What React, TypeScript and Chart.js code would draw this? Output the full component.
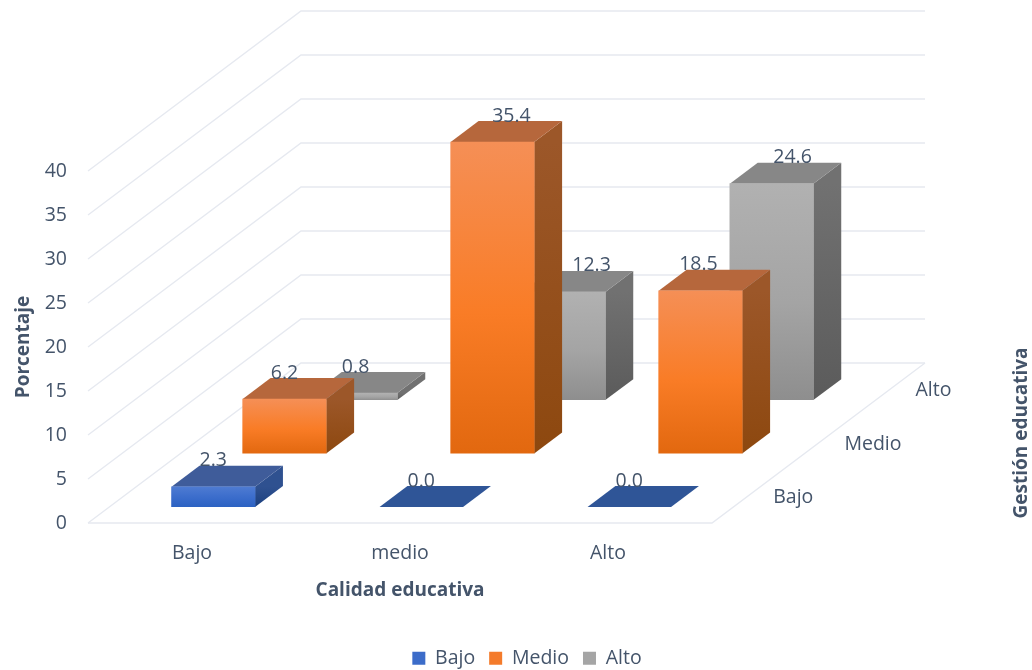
import React, { useEffect, useRef } from "react";
import { Chart, registerables } from "chart.js";

Chart.register(...registerables);

const categories = ["Bajo", "medio", "Alto"];
const depthLabels = ["Bajo", "Medio", "Alto"];
const seriesBajo = [2.3, 0.0, 0.0];
const seriesMedio = [6.2, 35.4, 18.5];
const seriesAlto = [0.8, 12.3, 24.6];

const FONT = '"Open Sans", sans-serif';
const TEXT = "#44546A";
const GRID = "#E6E9F0";
const TICK_SIZE = 19.5;
const TITLE_SIZE = 19;
const BOTTOM_BLEED = 8;

// Oblique projection of the depth axis, in px
const DEPTH_X = 213;
const DEPTH_Y = -160;
const BAR_DEPTH = 0.131;

type Skin = {
  front: [string, string, string];
  top: string;
  side: [string, string];
  depth: number;
  labelShift: number[];
  legend: string;
};

const skins: Skin[] = [
  { front: ["#4E7BD2", "#3A6CCB", "#2C62C2"], top: "#3F5C9A", side: ["#2F5190", "#1B3F7E"], depth: 0.1, labelShift: [0, 0, 0], legend: "#3C6CC9" },
  { front: ["#F58F56", "#F97C26", "#E2680F"], top: "#B6673C", side: ["#9C5729", "#8D480F"], depth: 0.434, labelShift: [0, 19, -2], legend: "#F47B2B" },
  { front: ["#B1B1B1", "#A4A4A4", "#8E8E8E"], top: "#878787", side: ["#717171", "#5B5B5B"], depth: 0.768, labelShift: [0, 28, 21], legend: "#A5A5A5" },
];

function frontGradient(i: number) {
  return (c: any) => {
    if (c.type !== "data") return skins[i].legend;
    const y = c.chart.scales.y;
    const top = y.getPixelForValue(c.raw);
    const bottom = y.getPixelForValue(0);
    if (!Number.isFinite(top) || !Number.isFinite(bottom)) return skins[i].legend;
    const g = c.chart.ctx.createLinearGradient(0, top, 0, bottom);
    g.addColorStop(0, skins[i].front[0]);
    g.addColorStop(0.55, skins[i].front[1]);
    g.addColorStop(1, skins[i].front[2]);
    return g;
  };
}

const poly = (ctx: CanvasRenderingContext2D, pts: number[][], fill: any) => {
  ctx.beginPath();
  pts.forEach((p, i) => (i ? ctx.lineTo(p[0], p[1]) : ctx.moveTo(p[0], p[1])));
  ctx.closePath();
  ctx.fillStyle = fill;
  ctx.fill();
};

const threeD = {
  id: "threeD",
  beforeDatasetsDraw(chart: any) {
    const { ctx, chartArea: a, scales } = chart;
    ctx.save();
    ctx.strokeStyle = GRID;
    ctx.lineWidth = 1.4;
    scales.y.ticks.forEach((t: any) => {
      const y = scales.y.getPixelForValue(t.value);
      ctx.beginPath();
      ctx.moveTo(a.left, y);
      ctx.lineTo(a.left + DEPTH_X, y + DEPTH_Y);
      ctx.lineTo(a.right + DEPTH_X, y + DEPTH_Y);
      ctx.stroke();
    });
    ctx.beginPath();
    ctx.moveTo(a.left, a.bottom);
    ctx.lineTo(a.right, a.bottom);
    ctx.lineTo(a.right + DEPTH_X, a.bottom + DEPTH_Y);
    ctx.stroke();
    ctx.restore();
  },
  beforeDatasetDraw(chart: any, args: any) {
    const { ctx } = chart;
    const s = skins[args.index];
    ctx.save();
    ctx.translate(s.depth * DEPTH_X, s.depth * DEPTH_Y);
    const bx = BAR_DEPTH * DEPTH_X;
    const by = BAR_DEPTH * DEPTH_Y;
    args.meta.data.forEach((el: any) => {
      const { x, y, base, width } = el.getProps(["x", "y", "base", "width"], true);
      const l = x - width / 2;
      const r = x + width / 2;
      if (base - y > 0.5) {
        const g = ctx.createLinearGradient(0, y, 0, base);
        g.addColorStop(0, s.side[0]);
        g.addColorStop(1, s.side[1]);
        poly(ctx, [[r, y], [r + bx, y + by], [r + bx, base + by], [r, base]], g);
      }
      poly(ctx, [[l, y], [r, y], [r + bx, y + by], [l + bx, y + by]], base - y > 0.5 ? s.top : "#2F5597");
    });
  },
  afterDatasetDraw(chart: any) {
    chart.ctx.restore();
  },
  afterDatasetsDraw(chart: any) {
    const { ctx, chartArea: a } = chart;
    ctx.save();
    ctx.fillStyle = TEXT;
    ctx.textAlign = "center";
    ctx.textBaseline = "middle";
    ctx.font = `${TICK_SIZE}px ${FONT}`;
    chart.data.datasets.forEach((ds: any, di: number) => {
      const s = skins[di];
      chart.getDatasetMeta(di).data.forEach((el: any, i: number) => {
        const px = el.x + s.depth * DEPTH_X + s.labelShift[i];
        const py = el.y + s.depth * DEPTH_Y + BAR_DEPTH * DEPTH_Y - 5;
        ctx.fillText(ds.data[i].toFixed(1), px, py);
      });
      // depth axis tick label, beside the floor's right edge
      const d = s.depth + BAR_DEPTH / 2;
      ctx.textAlign = "left";
      ctx.fillText(depthLabels[di], a.right + d * DEPTH_X + 26, a.bottom + d * DEPTH_Y + 1);
      ctx.textAlign = "center";
    });
    ctx.translate(1022, 433);
    ctx.rotate(-Math.PI / 2);
    ctx.font = `bold ${TITLE_SIZE}px ${FONT}`;
    ctx.fillText("Gestión educativa", 0, 0);
    ctx.restore();
  },
};

const datasets = [
  { label: "Bajo", data: seriesBajo, order: 0, backgroundColor: frontGradient(0) },
  { label: "Medio", data: seriesMedio, order: 1, backgroundColor: frontGradient(1) },
  { label: "Alto", data: seriesAlto, order: 2, backgroundColor: frontGradient(2) },
];

export default function App() {
  const ref = useRef<HTMLCanvasElement>(null);
  useEffect(() => {
    const chart = new Chart(ref.current as HTMLCanvasElement, {
      type: "bar",
      data: { labels: categories, datasets: datasets as any },
      plugins: [threeD as any],
      options: {
        animation: false,
        responsive: false,
        layout: { padding: { top: 171, left: 22, right: 0, bottom: -BOTTOM_BLEED } },
        datasets: { bar: { grouped: false, barThickness: 83.5, borderWidth: 0 } },
        plugins: {
          tooltip: { enabled: false },
          legend: {
            position: "bottom",
            labels: {
              boxWidth: 13,
              boxHeight: 13,
              padding: 14,
              color: TEXT,
              font: { family: FONT, size: 19.5 },
              generateLabels: (c: any) =>
                Chart.defaults.plugins.legend.labels.generateLabels(c).map((item: any, i: number) => ({
                  ...item,
                  fillStyle: skins[i].legend,
                  strokeStyle: skins[i].legend,
                })),
            },
          },
        },
        scales: {
          x: {
            grid: { display: false },
            border: { display: false },
            ticks: { color: TEXT, padding: 11, font: { family: FONT, size: TICK_SIZE } },
            title: { display: true, text: "Calidad educativa", color: TEXT, padding: { top: 14, bottom: 33 }, font: { family: FONT, size: TITLE_SIZE, weight: "bold" } },
            afterFit: (s: any) => {
              s.height = 670 + BOTTOM_BLEED - 523 - (s.chart.legend?.height ?? 36);
            },
          },
          y: {
            min: 0,
            max: 40,
            grid: { display: false },
            border: { display: false },
            ticks: { stepSize: 5, color: TEXT, padding: 13, font: { family: FONT, size: TICK_SIZE } },
            title: { display: true, text: "Porcentaje", color: TEXT, padding: { top: -9.4, bottom: 0 }, font: { family: FONT, size: TITLE_SIZE, weight: "bold" } },
            afterFit: (s: any) => {
              s.width = 66;
            },
          },
          depth: {
            type: "category",
            axis: "y",
            position: "right",
            labels: depthLabels,
            grid: { display: false },
            border: { display: false },
            ticks: { display: false },
            afterFit: (s: any) => {
              s.width = 320;
            },
          },
        } as any,
      },
    });
    return () => chart.destroy();
  }, []);
  return (
    <div style={{ position: "absolute", left: 0, top: 0, width: 1032, height: 670, background: "#fff" }}>
      <canvas ref={ref} width={1032} height={670} style={{ display: "block", filter: "blur(0.4px)" }} />
    </div>
  );
}
